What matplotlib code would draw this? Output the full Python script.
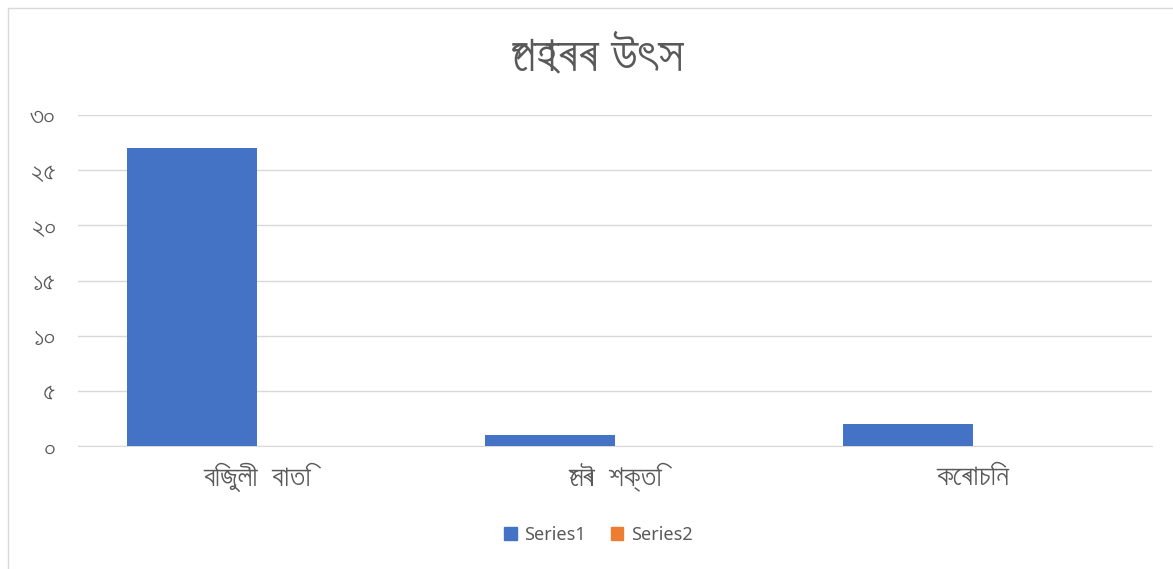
import numpy as np
import matplotlib
matplotlib.use("Agg")
import matplotlib.pyplot as plt
from matplotlib import font_manager
from matplotlib.patches import Rectangle, Patch

# data
categories = ["বিজুলী  বাতি", "সৌৰ  শক্তি", "কেৰাচিন"]
series1 = [27, 1, 2]
series2 = [0, 0, 0]
y_ticks = [0, 5, 10, 15, 20, 25, 30]
y_tick_labels = ["০", "৫", "১০", "১৫", "২০", "২৫", "৩০"]
title = "পোহৰৰ উৎস"

# look for any installed font with bengali glyphs, fall back to noto/dejavu
beng = []
for f in font_manager.fontManager.ttflist:
    n = f.name.lower()
    if any(k in n for k in ["bengali", "lohit", "freesans", "mukti", "siyam", "kalpurush", "vrinda", "nirmala"]):
        if f.name not in beng:
            beng.append(f.name)
plt.rcParams['font.family'] = beng + ['Noto Sans', 'DejaVu Sans']

fig = plt.figure(figsize=(11.73, 5.69), dpi=100)
ax = fig.add_axes([0.0665, 0.216, 0.9155, 0.582])

x = np.arange(len(categories))
w = 0.363
ax.bar(x - w / 2, series1, w, color="#4472C4", zorder=3)
ax.bar(x + w / 2, series2, w, color="#ED7D31", zorder=3)

ax.set_xlim(-0.5, 2.5)
ax.set_ylim(0, 30)
ax.set_yticks(y_ticks)
ax.set_yticklabels(y_tick_labels, color="#595959", fontsize=19)
ax.set_xticks(x)
ax.set_xticklabels(categories, color="#595959", fontsize=21)
ax.tick_params(axis="both", length=0)
ax.tick_params(axis="y", pad=16)
ax.tick_params(axis="x", pad=12)
ax.grid(axis="y", color="#d9d9d9", linewidth=1, zorder=0)
for s in ["top", "right", "left"]:
    ax.spines[s].set_visible(False)
ax.spines["bottom"].set_color("#d9d9d9")

fig.text(0.509, 0.9, title, ha="center", va="center", fontsize=36, color="#595959")

handles = [Patch(color="#4472C4", label="Series1"), Patch(color="#ED7D31", label="Series2")]
fig.legend(handles=handles, loc="center", bbox_to_anchor=(0.51, 0.06), ncol=2,
           frameon=False, prop={"family": ["Noto Sans", "DejaVu Sans"], "size": 13},
           handlelength=0.7, handleheight=0.7,
           columnspacing=1.4, handletextpad=0.4, labelcolor="#595959")

# chart frame
fig.patches.append(Rectangle((8 / 1173, -0.02), 1.1, 1 - 8 / 569 + 0.02, transform=fig.transFigure,
                             fill=False, edgecolor="#d9d9d9", linewidth=1))

fig.savefig("out.png", dpi=100)
